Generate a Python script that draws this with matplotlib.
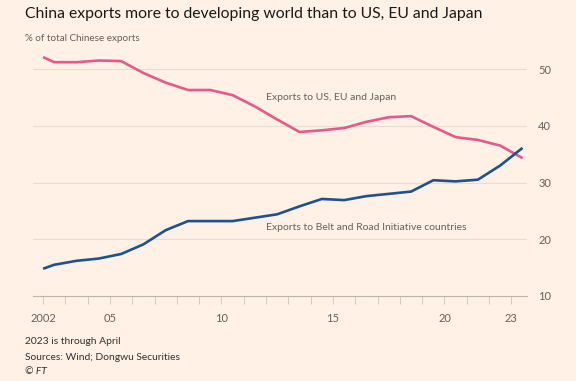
import matplotlib
matplotlib.use("Agg")
import matplotlib.pyplot as plt

# Share of total Chinese exports (%).
# Points sit mid-year; the series starts at the 2002 tick and 2023 runs to April.
years = [2002.0, 2002.5, 2003.5, 2004.5, 2005.5, 2006.5, 2007.5, 2008.5, 2009.5,
         2010.5, 2011.5, 2012.5, 2013.5, 2014.5, 2015.5, 2016.5, 2017.5, 2018.5,
         2019.5, 2020.5, 2021.5, 2022.5, 2023.5]
us_eu_japan = [52.1, 51.2, 51.2, 51.5, 51.4, 49.3, 47.6, 46.3, 46.3,
               45.4, 43.4, 41.1, 38.9, 39.2, 39.6, 40.7, 41.5, 41.7,
               39.8, 38.0, 37.5, 36.5, 34.3]
belt_and_road = [14.8, 15.5, 16.2, 16.6, 17.4, 19.1, 21.6, 23.2, 23.2,
                 23.2, 23.8, 24.4, 25.8, 27.1, 26.9, 27.6, 28.0, 28.4,
                 30.4, 30.2, 30.5, 33.0, 36.1]

tick_years = [2002, 2005, 2010, 2015, 2020, 2023]
tick_labels = ["2002", "05", "10", "15", "20", "23"]
y_ticks = [10, 20, 30, 40, 50]

BG = "#FFF1E5"
PINK = "#E8588A"
BLUE = "#1D5193"
GREY = "#66605C"

plt.rcParams["font.family"] = ["Lato", "DejaVu Sans"]

fig = plt.figure(figsize=(5.76, 3.81), dpi=100, facecolor=BG)
ax = fig.add_axes([33 / 576, 1 - 296 / 381, 494 / 576, 244 / 381], facecolor=BG)

ax.plot(years, us_eu_japan, color=PINK, linewidth=1.9, solid_capstyle="butt", zorder=3)
ax.plot(years, belt_and_road, color=BLUE, linewidth=1.9, solid_capstyle="butt", zorder=3)

ax.set_xlim(2001.55, 2023.7)
ax.set_ylim(10, 53)

# horizontal grid, values on the right
for v in y_ticks[1:]:
    ax.axhline(v, color="#E8DDD3", linewidth=0.8, zorder=1)
ax.set_yticks(y_ticks)
ax.yaxis.tick_right()
ax.tick_params(axis="y", length=0, pad=8, labelsize=8, labelcolor=GREY)

ax.set_xticks(range(2002, 2024), minor=True)
ax.set_xticks(tick_years)
ax.set_xticklabels(tick_labels)
ax.tick_params(axis="x", which="both", length=6, width=0.7, color="#D3C9C0",
               direction="out", pad=6, labelsize=8, labelcolor=GREY)

for s in ["top", "left", "right"]:
    ax.spines[s].set_visible(False)
ax.spines["bottom"].set_color("#BEB5AD")
ax.spines["bottom"].set_linewidth(0.8)

ax.text(2012.0, 45.0, "Exports to US, EU and Japan", fontsize=7.5, color=GREY,
        va="center", ha="left")
ax.text(2012.0, 22.0, "Exports to Belt and Road Initiative countries", fontsize=7.5,
        color=GREY, va="center", ha="left")

fig.text(25 / 576, 1 - 14 / 381, "China exports more to developing world than to US, EU and Japan",
         fontsize=11.3, color="#1A1817", va="center", ha="left")
fig.text(25 / 576, 1 - 38.5 / 381, "% of total Chinese exports", fontsize=7.1, color=GREY,
         va="center", ha="left")
fig.text(25 / 576, 1 - 342 / 381, "2023 is through April", fontsize=7.4, color="#33302E",
         va="center", ha="left")
fig.text(25 / 576, 1 - 357 / 381, "Sources: Wind; Dongwu Securities", fontsize=7.4,
         color="#33302E", va="center", ha="left")
fig.text(25 / 576, 1 - 371.5 / 381, "\u00a9 FT", fontsize=7.4, color="#33302E",
         style="italic", va="center", ha="left")

fig.savefig("out.png", dpi=100, facecolor=BG)
